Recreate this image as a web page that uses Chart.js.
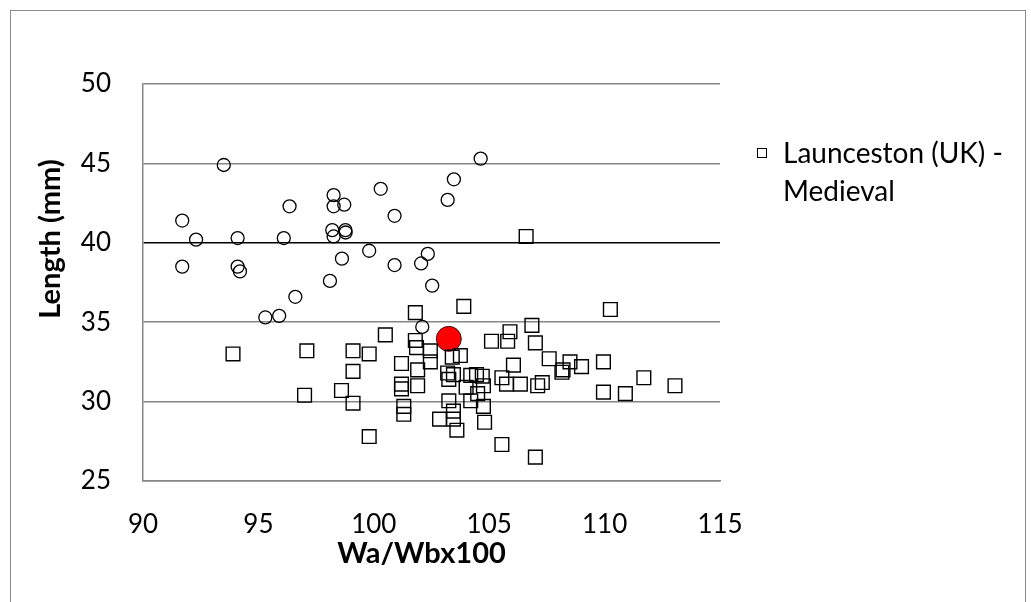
<!DOCTYPE html>
<html>
<head>
<meta charset="utf-8">
<title>Length vs Wa/Wb</title>
<script src="https://cdn.jsdelivr.net/npm/chart.js"></script>
<style>
  body { margin: 0; background: #fff; }
  .wrap { position: relative; width: 1031px; height: 602px; overflow: hidden; font-family: Lato, sans-serif; color: #000; }
  .frame { position: absolute; left: 10px; top: 10px; width: 1014px; height: 600px; border: 1px solid #8c8c8c; }
  .ley-mk { position: absolute; left: 757px; top: 148px; width: 8px; height: 8px; border: 1px solid #000; }
  .ley-txt { position: absolute; left: 783px; top: 133px; font-size: 28px; line-height: 38px; white-space: nowrap; }
  .tit-x { position: absolute; left: 0; top: 537px; width: 843px; text-align: center; font-size: 29px; line-height: 29px; font-weight: bold; }
  .tit-y { position: absolute; left: 48px; top: 239px; font-size: 29px; line-height: 29px; font-weight: bold; white-space: nowrap;
           transform: translate(-50%, -50%) rotate(-90deg); }
</style>
</head>
<body>
<div class="wrap">
  <div class="frame"></div>
  <canvas id="grafico" width="1031" height="602"></canvas>
  <div class="ley-mk"></div>
  <div class="ley-txt">Launceston (UK) -<br>Medieval</div>
  <div class="tit-x">Wa/Wbx100</div>
  <div class="tit-y">Length (mm)</div>
</div>
<script>
// valores
const circX = [93.5, 91.7, 92.3, 91.7, 94.1, 94.1, 94.2, 96.35, 96.1, 96.6, 95.3, 95.9,
  98.26, 98.26, 98.72, 98.2, 98.77, 98.78, 98.26, 98.1, 98.62, 99.8, 100.3, 100.9,
  100.9, 102.05, 102.34, 102.53, 102.1, 103.2, 103.47, 104.63];
const circY = [44.9, 41.4, 40.2, 38.5, 40.3, 38.5, 38.2, 42.3, 40.3, 36.6, 35.3, 35.4,
  43.0, 42.3, 42.4, 40.8, 40.8, 40.65, 40.4, 37.6, 39.0, 39.5, 43.4, 41.7,
  38.6, 38.7, 39.3, 37.3, 34.7, 42.7, 44.0, 45.3];

const launX = [93.9, 97.1, 97.0, 98.6, 99.1, 99.8, 99.1, 99.1, 99.8, 100.5,
  101.8, 101.8, 101.85, 102.45, 102.45, 101.2, 101.9, 101.2, 101.2, 101.9,
  101.3, 101.3, 103.9, 103.4, 103.75, 103.2, 103.45, 103.25, 104.2, 104.45,
  104.7, 104.75, 104.0, 104.5, 104.2, 103.25, 103.45, 102.85, 103.45, 103.6,
  104.75, 104.8, 105.1, 105.8, 105.9, 106.05, 105.55, 105.75, 106.35, 107.1,
  107.3, 105.55, 110.25, 106.85, 107.0, 107.6, 108.5, 109.0, 109.95, 108.2,
  108.15, 111.7, 113.05, 109.95, 110.9, 107.0, 106.6];
const launY = [33.0, 33.2, 30.4, 30.7, 33.2, 33.0, 31.9, 29.9, 27.8, 34.2,
  35.6, 33.85, 33.4, 33.2, 32.5, 32.4, 32.0, 31.1, 30.8, 31.0,
  29.7, 29.2, 36.0, 32.8, 32.9, 31.8, 31.7, 31.4, 31.65, 31.7,
  31.6, 31.0, 30.9, 30.5, 30.05, 30.05, 29.4, 28.9, 28.9, 28.2,
  29.7, 28.7, 33.8, 33.8, 34.4, 32.3, 31.5, 31.1, 31.1, 31.0,
  31.2, 27.3, 35.8, 34.8, 33.7, 32.7, 32.5, 32.2, 32.5, 32.0,
  31.85, 31.5, 31.0, 30.6, 30.5, 26.5, 40.4];

const refX = [103.25];
const refY = [33.95];

const xTicks = [90, 95, 100, 105, 110, 115];
const yTicks = [25, 30, 35, 40, 45, 50];

const puntos = (xs, ys) => xs.map((x, i) => ({ x: x, y: ys[i] }));

const fuente = 'Lato, sans-serif';

const ctx = document.getElementById('grafico').getContext('2d');
new Chart(ctx, {
  type: 'scatter',
  data: {
    datasets: [
      {
        label: 'Launceston (UK) - Medieval',
        data: puntos(launX, launY),
        pointStyle: 'rect',
        pointRadius: 9.7,
        backgroundColor: 'rgba(0,0,0,0)',
        borderColor: '#000',
        borderWidth: 1.4
      },
      {
        label: 'circulos',
        data: puntos(circX, circY),
        pointStyle: 'circle',
        pointRadius: 6.5,
        backgroundColor: 'rgba(0,0,0,0)',
        borderColor: '#000',
        borderWidth: 1.3
      },
      {
        label: 'referencia',
        data: puntos(refX, refY),
        pointStyle: 'circle',
        pointRadius: 12.5,
        backgroundColor: '#ff0000',
        borderColor: '#3a1a1a',
        borderWidth: 1
      }
    ]
  },
  options: {
    responsive: false,
    animation: false,
    layout: { padding: { top: 84, right: 311, bottom: 0, left: 0 } },
    plugins: { legend: { display: false }, tooltip: { enabled: false } },
    scales: {
      x: {
        type: 'linear',
        min: 90,
        max: 115,
        afterBuildTicks: s => { s.ticks = xTicks.map(v => ({ value: v })); },
        afterFit: s => { s.height = 121; },
        grid: { display: false },
        border: { display: true, color: '#868686', width: 1.5 },
        ticks: { color: '#000', padding: 20, font: { family: fuente, size: 26 } }
      },
      y: {
        min: 25,
        max: 50,
        afterBuildTicks: s => { s.ticks = yTicks.map(v => ({ value: v })); },
        afterFit: s => { s.width = 143; },
        grid: {
          drawTicks: false,
          lineWidth: 1.5,
          color: c => (c.tick && c.tick.value === 40 ? '#000' : '#868686')
        },
        border: { display: true, color: '#868686', width: 1.5 },
        ticks: { color: '#000', padding: 32, font: { family: fuente, size: 26 } }
      }
    }
  }
});
</script>
</body>
</html>
